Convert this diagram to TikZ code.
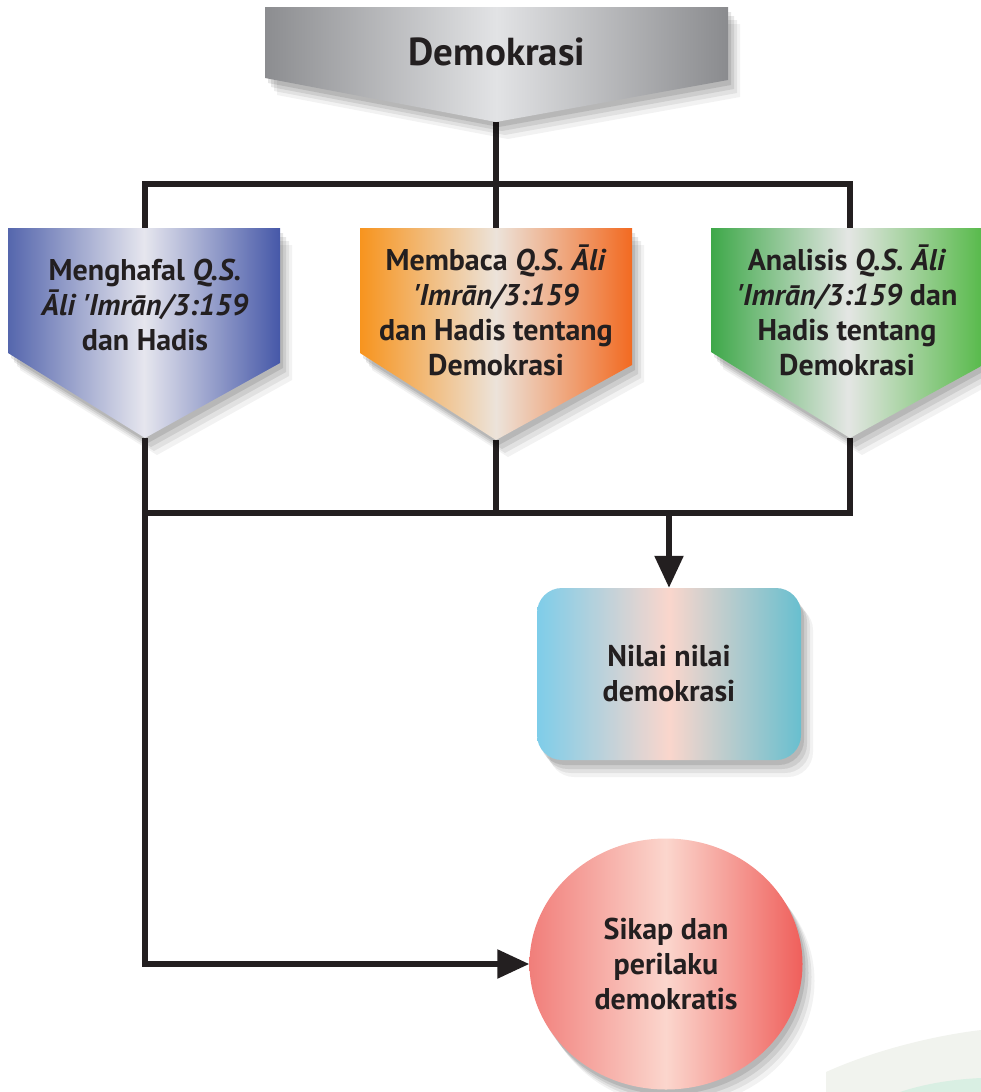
\documentclass[tikz,border=0pt]{standalone}
\usepackage{fontspec}
\setmainfont{PT Sans}
\usetikzlibrary{shadows,arrows.meta,shapes.geometric}
\definecolor{ink}{HTML}{231F20}
\definecolor{grayL}{HTML}{8C8D90}
\definecolor{grayM}{HTML}{E2E3E5}
\definecolor{grayR}{HTML}{8A8B8E}
\definecolor{blueL}{HTML}{5566AD}
\definecolor{blueM}{HTML}{E6E6EE}
\definecolor{blueR}{HTML}{4658A8}
\definecolor{orangeL}{HTML}{F7941E}
\definecolor{orangeM}{HTML}{ECE3DA}
\definecolor{orangeR}{HTML}{F26A21}
\definecolor{greenL}{HTML}{3EA849}
\definecolor{greenM}{HTML}{E4E6E4}
\definecolor{greenR}{HTML}{55B948}
\definecolor{cyanL}{HTML}{7ECDE9}
\definecolor{cyanM}{HTML}{FAD6CC}
\definecolor{cyanR}{HTML}{68BFCF}
\definecolor{redL}{HTML}{F17E7A}
\definecolor{redM}{HTML}{FBD6CD}
\definecolor{redR}{HTML}{EF5F5B}
\definecolor{paper}{HTML}{F1F3EE}
\definecolor{mint}{HTML}{D9EFE3}
\newcommand{\qs}{\textquotesingle}
\tikzset{
  lab/.style={text=ink, font=\bfseries\fontsize{30}{35}\selectfont, align=center},
  title/.style={text=ink, font=\bfseries\fontsize{39}{44}\selectfont},
  link/.style={line width=5.5pt, draw=ink},
  tip/.style={-{Triangle[length=32pt,width=28pt]}},
  shadowed/.style={
    drop shadow={shadow xshift=3pt, shadow yshift=-5pt, opacity=0.10, fill=black},
    drop shadow={shadow xshift=6pt, shadow yshift=-9pt, opacity=0.09, fill=black},
    drop shadow={shadow xshift=9pt, shadow yshift=-13pt, opacity=0.07, fill=black},
    drop shadow={shadow xshift=12pt, shadow yshift=-17pt, opacity=0.05, fill=black}},
  grayFill/.style={left color=grayL, right color=grayR, middle color=grayM},
  blueFill/.style={left color=blueL, right color=blueR, middle color=blueM},
  orangeFill/.style={left color=orangeL, right color=orangeR, middle color=orangeM},
  greenFill/.style={left color=greenL, right color=greenR, middle color=greenM},
  cyanFill/.style={left color=cyanL, right color=cyanR, middle color=cyanM},
  redFill/.style={left color=redL, right color=redR, middle color=redM}
}

\begin{document}
\begin{tikzpicture}[x=1pt,y=1pt]
\useasboundingbox (0,0) rectangle (981,-1092);
% faint page decoration
\fill[paper] (826,-1092) -- (826,-1072) .. controls (870,-1052) and (930,-1036) .. (981,-1030) -- (981,-1092) -- cycle;
\fill[mint] (900,-1092) .. controls (930,-1082) and (960,-1079) .. (981,-1078) -- (981,-1092) -- cycle;

\coordinate (demo tip) at (496,-122);
\coordinate (top bus) at (496,-184);
\coordinate (b1 top) at (145,-228);
\coordinate (b2 top) at (496,-228);
\coordinate (b3 top) at (850,-228);
\coordinate (b1 tip) at (145,-438);
\coordinate (b2 tip) at (496,-440);
\coordinate (b3 tip) at (850,-438);
\coordinate (low bus) at (145,-513);

% connectors behind the shapes
\draw[link] (demo tip) -- (top bus);
\draw[link] (b1 top) |- (top bus) -| (b3 top);
\draw[link] (top bus) -- (b2 top);
\draw[link] (b3 tip) |- (low bus);
\draw[link] (b2 tip) -- (b2 tip |- low bus);

% banner and pentagons
\path[shadowed, grayFill] (265,-7) -- (728,-7) -- (728,-80) -- (demo tip) -- (265,-78) -- cycle;
\node[title] (demo) at (497,-52) {Demokrasi};

\path[shadowed, blueFill] (8,-228) -- (280,-228) -- (280,-363) -- (b1 tip) -- (8,-353) -- cycle;
\path[shadowed, orangeFill] (360,-228) -- (632,-228) -- (632,-365) -- (b2 tip) -- (360,-353) -- cycle;
\path[shadowed, greenFill] (711,-228) -- (985,-228) -- (985,-364) -- (b3 tip) -- (711,-352) -- cycle;

\node[lab] (hafal) at (145,-305) {Menghafal \textit{Q.S.}\\\textit{Āli \qs Imrān/3:159}\\dan Hadis};
\node[lab] (baca) at (496,-310) {Membaca \textit{Q.S. Āli}\\\textit{\qs Imrān/3:159}\\dan Hadis tentang\\Demokrasi};
\node[lab] (analisis) at (847,-310) {Analisis \textit{Q.S. Āli}\\\textit{\qs Imrān/3:159} dan\\Hadis tentang\\Demokrasi};

% results
\node[lab, shadowed, cyanFill, rounded corners=25pt, minimum width=264pt, minimum height=172pt] (nilai) at (669,-674) {Nilai nilai\\demokrasi};
\node[lab, shadowed, redFill, ellipse, minimum width=273pt, minimum height=251pt] (sikap) at (666,-964) {Sikap dan\\perilaku\\demokratis};

\draw[link, tip] (nilai.north |- low bus) -- (nilai.north);
\draw[link, tip] (b1 tip) |- (sikap.west);
\end{tikzpicture}
\end{document}
